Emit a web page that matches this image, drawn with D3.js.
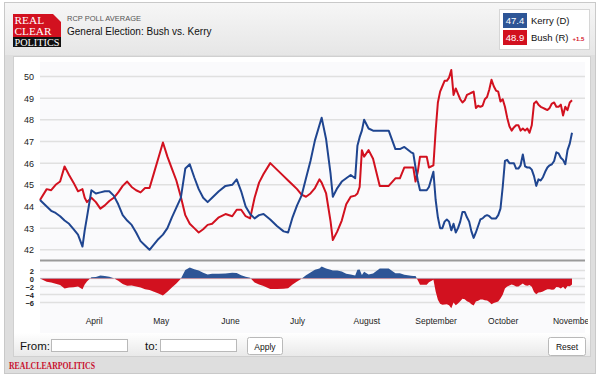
<!DOCTYPE html>
<html>
<head>
<meta charset="utf-8">
<script src="https://cdn.jsdelivr.net/npm/d3@7"></script>
<style>
body{margin:0;background:#fff;}
svg{display:block;font-family:"Liberation Sans",Arial,sans-serif;}
</style>
</head>
<body>
<div id="chart"></div>
<script>
// RCP poll average, Bush vs Kerry 2004
var dates = [
 "3/8","3/11","3/13","3/15","3/17","3/19","3/21","3/23","3/25","3/27","3/28","3/29","3/31",
 "4/2","4/4","4/6","4/8","4/10","4/12","4/14","4/16","4/18","4/20","4/22","4/24","4/26","4/28","4/30",
 "5/2","5/4","5/6","5/8","5/10","5/12","5/14","5/16","5/18","5/20","5/22","5/24","5/27","5/30",
 "6/2","6/4","6/6","6/8","6/10","6/12","6/14","6/16","6/19","6/22","6/25","6/27","6/29",
 "7/1","7/3","7/5","7/7","7/9","7/11","7/12","7/14","7/16","7/17","7/19","7/21","7/23","7/25","7/27","7/28","7/29","7/30","7/31",
 "8/2","8/4","8/7","8/11","8/14","8/16","8/18","8/21","8/22","8/23","8/24","8/25","8/28","8/29","8/31",
 "9/1","9/2","9/3","9/4","9/5","9/6","9/7","9/8","9/9","9/10","9/11","9/12","9/13","9/14","9/15",
 "9/16","9/17","9/18","9/19","9/20","9/21","9/22","9/23","9/24","9/25","9/26","9/27","9/28","9/29","9/30",
 "10/1","10/2","10/3","10/4","10/5","10/6","10/7","10/8","10/9","10/10","10/11","10/12","10/13","10/14","10/15","10/16",
 "10/17","10/18","10/19","10/20","10/21","10/22","10/23","10/24","10/25","10/26","10/27","10/28","10/29","10/30","10/31",
 "11/1"
];
var kerry = [
 44.3,44.0,43.8,43.7,43.55,43.35,43.2,42.95,42.7,42.15,42.9,43.5,44.75,
 44.6,44.65,44.7,44.7,44.5,44.1,43.6,43.35,43.15,42.8,42.4,42.2,42.0,42.25,42.5,
 42.7,43.0,43.5,43.95,44.4,45.75,45.95,45.35,44.8,44.4,44.2,44.4,44.7,44.95,
 45.0,45.25,44.7,44.0,43.65,43.45,43.6,43.65,43.4,43.1,42.85,42.8,43.5,
 44.05,44.5,45.3,46.1,47.05,47.75,48.1,47.1,45.5,44.45,44.85,45.15,45.3,45.45,45.3,46.8,47.2,47.5,48.0,
 47.6,47.5,47.5,47.5,46.65,46.65,46.75,46.5,46.45,45.8,45.2,44.75,44.75,44.9,45.6,
 44.3,43.5,43.0,43.0,43.3,43.4,43.3,42.9,43.2,42.8,43.0,43.3,43.75,43.75,43.5,
 43.3,42.85,42.55,42.8,43.1,43.4,43.45,43.55,43.6,43.55,43.45,43.45,43.45,43.6,43.9,
 44.9,46.1,46.15,46.0,46.0,46.0,45.75,45.75,45.9,46.4,45.85,45.8,45.8,45.7,45.4,44.95,
 45.25,45.2,45.35,45.6,45.8,45.9,45.95,46.1,46.5,46.45,46.25,46.15,45.95,46.6,46.9,
 47.4
];
var bush = [
 44.3,44.8,44.75,45.0,45.15,45.85,45.45,45.1,44.7,44.8,44.4,44.2,44.4,
 44.2,43.9,44.05,44.25,44.4,44.65,44.95,45.15,44.9,44.75,44.65,44.85,44.85,45.55,46.25,
 46.95,46.3,45.75,45.2,44.45,43.6,43.2,43.0,42.8,42.95,43.15,43.2,43.5,43.65,
 43.55,43.85,43.85,43.55,43.45,44.4,45.1,45.5,46.0,45.7,45.4,45.2,45.0,
 44.8,44.55,44.45,44.6,44.85,45.25,45.1,44.6,43.3,42.45,42.85,43.35,44.1,44.45,44.5,44.6,44.9,46.6,46.3,
 46.6,46.2,44.95,44.95,45.3,45.3,45.8,45.8,45.8,45.15,45.6,46.3,46.3,45.8,45.9,
 47.5,48.8,49.3,49.55,49.8,49.8,49.95,50.3,49.15,49.45,49.2,48.95,48.8,48.9,49.15,
 49.2,49.25,49.3,48.55,48.65,48.6,48.65,48.95,49.05,49.4,49.85,49.55,49.35,49.3,48.85,
 48.95,48.6,48.1,47.7,47.5,47.65,47.75,47.75,47.5,47.6,47.5,47.6,47.4,47.75,48.75,48.85,
 48.7,48.6,48.55,48.5,48.45,48.55,48.75,48.8,48.6,48.6,48.7,48.2,48.6,48.45,48.8,
 48.9
];
var yTicks = [42,43,44,45,46,47,48,49,50];
var spreadTicks = [2,0,-2,-4,-6];
var monthTicks = ["4/1","5/1","6/1","7/1","8/1","9/1","10/1","11/1"];
var monthNames = ["April","May","June","July","August","September","October","November"];

var blue = "#1f4590", red = "#d2111f";
var parse = d3.timeParse("%m/%d/%Y");
function toDate(s){ return parse(s + "/2004"); }

var data = dates.map(function(d, i){
	return {date: toDate(d), k: kerry[i], b: bush[i], s: kerry[i] - bush[i]};
});

var svg = d3.select("#chart").append("svg")
	.attr("width", 600)
	.attr("height", 376);

var defs = svg.append("defs");
var hg = defs.append("linearGradient").attr("id", "hg").attr("x1", 0).attr("y1", 0).attr("x2", 0).attr("y2", 1);
hg.append("stop").attr("offset", "0").attr("stop-color", "#f6f6f6");
hg.append("stop").attr("offset", "1").attr("stop-color", "#e6e6e6");
var cg = defs.append("linearGradient").attr("id", "cg").attr("x1", 0).attr("y1", 0).attr("x2", 0).attr("y2", 1);
cg.append("stop").attr("offset", "0").attr("stop-color", "#ffffff");
cg.append("stop").attr("offset", "1").attr("stop-color", "#e9e9e9");

// frame
svg.append("rect").attr("x", 4.5).attr("y", 2.5).attr("width", 591).attr("height", 371)
	.attr("fill", "#dedede").attr("stroke", "#c9c9c9");
svg.append("rect").attr("x", 5).attr("y", 3).attr("width", 590).attr("height", 52).attr("fill", "url(#hg)");
svg.append("rect").attr("x", 13.5).attr("y", 56.5).attr("width", 577).attr("height", 300)
	.attr("fill", "#fff").attr("stroke", "#d0d0d0");
svg.append("rect").attr("x", 40).attr("y", 62).attr("width", 545).attr("height", 271).attr("fill", "#fafafc");
svg.append("rect").attr("x", 14).attr("y", 333).attr("width", 576).attr("height", 23).attr("fill", "url(#cg)");

// logo
var logo = svg.append("g");
logo.append("rect").attr("x", 13).attr("y", 14).attr("width", 48).attr("height", 24).attr("fill", "#d2111f");
logo.append("path").attr("d", "M53,14 L61,14 L61,22 Z").attr("fill", "#f2f2f2");
logo.append("rect").attr("x", 13).attr("y", 37).attr("width", 48).attr("height", 10).attr("fill", "#111");
logo.selectAll("text.l").data([["REAL", 24.2], ["CLEAR", 35], ["POLITICS", 45.6]]).enter().append("text")
	.attr("x", 14.5).attr("y", function(d){ return d[1]; })
	.attr("textLength", function(d){ return d[0].length > 5 ? 45 : d[0].length * 7.4; })
	.attr("lengthAdjust", "spacingAndGlyphs")
	.style("font-family", "'Liberation Serif','DejaVu Serif',serif")
	.style("font-size", "9.5px").attr("fill", "#fff")
	.text(function(d){ return d[0]; });

svg.append("text").attr("x", 67).attr("y", 21).style("font-size", "7.5px").attr("fill", "#555")
	.text("RCP POLL AVERAGE");
svg.append("text").attr("x", 67).attr("y", 35).style("font-size", "10px").attr("fill", "#111")
	.text("General Election: Bush vs. Kerry");

// legend
var last = data[data.length - 1];
var lg = svg.append("g");
lg.append("rect").attr("x", 499.5).attr("y", 9.5).attr("width", 90).attr("height", 40)
	.attr("fill", "#fff").attr("stroke", "#d6d6d6");
lg.append("rect").attr("x", 503).attr("y", 13).attr("width", 24).attr("height", 15).attr("fill", "#2d5596");
lg.append("rect").attr("x", 503).attr("y", 30).attr("width", 24).attr("height", 15).attr("fill", red);
lg.append("text").attr("x", 515).attr("y", 24).attr("text-anchor", "middle").attr("fill", "#fff")
	.style("font-size", "9.5px").text(d3.format(".1f")(last.k));
lg.append("text").attr("x", 515).attr("y", 41).attr("text-anchor", "middle").attr("fill", "#fff")
	.style("font-size", "9.5px").text(d3.format(".1f")(last.b));
lg.append("text").attr("x", 531).attr("y", 24).style("font-size", "9.5px").attr("fill", "#111").text("Kerry (D)");
lg.append("text").attr("x", 531).attr("y", 41).style("font-size", "9.5px").attr("fill", "#111").text("Bush (R)");
lg.append("text").attr("x", 572.5).attr("y", 41).style("font-size", "6px").style("font-weight", "bold")
	.attr("fill", red).text("+" + d3.format(".1f")(last.b - last.k));

// scales
var x = d3.scaleTime()
	.domain([toDate("3/8"), toDate("11/1")])
	.range([40, 572]);
var y = d3.scaleLinear().domain([42, 50]).range([249.8, 76.5]);
var yS = d3.scaleLinear().domain([2, -6]).range([270.6, 302.6]);

// grid
svg.append("g").selectAll("line").data(yTicks).enter().append("line")
	.attr("x1", 40).attr("x2", 585)
	.attr("y1", function(d){ return y(d); }).attr("y2", function(d){ return y(d); })
	.attr("stroke", "#e0e0e0").attr("stroke-width", 1.5);
svg.append("g").selectAll("line").data(spreadTicks).enter().append("line")
	.attr("x1", 40).attr("x2", 585)
	.attr("y1", function(d){ return yS(d); }).attr("y2", function(d){ return yS(d); })
	.attr("stroke", "#e0e0e0").attr("stroke-width", 1.5);
svg.append("line").attr("x1", 40).attr("x2", 585).attr("y1", 260.5).attr("y2", 260.5)
	.attr("stroke", "#9a9a9a").attr("stroke-width", 2);

// y axes
var ya = svg.append("g").attr("transform", "translate(37,0)")
	.call(d3.axisLeft(y).tickValues(yTicks).tickSize(0).tickPadding(3));
ya.select(".domain").remove();
ya.selectAll("text").style("font-size", "9px").style("font-family", "'Liberation Sans',Arial,sans-serif").attr("fill", "#222");

var ys = svg.append("g").attr("transform", "translate(37,0)")
	.call(d3.axisLeft(yS).tickValues(spreadTicks).tickSize(0).tickPadding(3).tickFormat(d3.format("d")));
ys.select(".domain").remove();
ys.selectAll("text").style("font-size", "7.5px").style("font-weight", "bold")
	.style("font-family", "'Liberation Sans',Arial,sans-serif").attr("fill", "#222");

// spread area
defs.append("clipPath").attr("id", "above").append("rect")
	.attr("x", 40).attr("y", 262).attr("width", 545).attr("height", yS(0) - 262);
defs.append("clipPath").attr("id", "below").append("rect")
	.attr("x", 40).attr("y", yS(0)).attr("width", 545).attr("height", 330 - yS(0));
var area = d3.area()
	.x(function(d){ return x(d.date); })
	.y0(yS(0))
	.y1(function(d){ return yS(d.s); });
svg.append("path").datum(data).attr("d", area).attr("fill", "#2d5596").attr("clip-path", "url(#above)");
svg.append("path").datum(data).attr("d", area).attr("fill", red).attr("clip-path", "url(#below)");

// lines
var lineK = d3.line().x(function(d){ return x(d.date); }).y(function(d){ return y(d.k); });
var lineB = d3.line().x(function(d){ return x(d.date); }).y(function(d){ return y(d.b); });
svg.append("path").datum(data).attr("d", lineB).attr("fill", "none").attr("stroke", red)
	.attr("stroke-width", 2).attr("stroke-linejoin", "round");
svg.append("path").datum(data).attr("d", lineK).attr("fill", "none").attr("stroke", blue)
	.attr("stroke-width", 2).attr("stroke-linejoin", "round");

// month axis, clipped at the right edge of the plot
defs.append("clipPath").attr("id", "mclip").append("rect")
	.attr("x", 14).attr("y", 305).attr("width", 574).attr("height", 28);
var xa = svg.append("g").attr("clip-path", "url(#mclip)")
	.append("g").attr("transform", "translate(0,315)")
	.call(d3.axisBottom(x).tickValues(monthTicks.map(toDate)).tickSize(0).tickPadding(3)
		.tickFormat(function(d, i){ return monthNames[i]; }));
xa.select(".domain").remove();
xa.selectAll("text").style("font-size", "8.5px").style("font-family", "'Liberation Sans',Arial,sans-serif")
	.attr("fill", "#222");

// controls
function box(bx, by, w, h, r){
	svg.append("rect").attr("x", bx).attr("y", by).attr("width", w).attr("height", h).attr("rx", r || 0)
		.attr("fill", "#fff").attr("stroke", "#b9b9b9");
}
svg.append("text").attr("x", 20).attr("y", 350).style("font-size", "11.5px").attr("fill", "#111").text("From:");
box(51.5, 339.5, 76, 12);
svg.append("text").attr("x", 145).attr("y", 350).style("font-size", "11.5px").attr("fill", "#111").text("to:");
box(160.5, 339.5, 76, 12);
box(247.5, 337.5, 35, 17, 2);
svg.append("text").attr("x", 265).attr("y", 349.5).attr("text-anchor", "middle").style("font-size", "8.5px")
	.attr("fill", "#111").text("Apply");
box(548.5, 337.5, 37, 18, 2);
svg.append("text").attr("x", 567).attr("y", 350).attr("text-anchor", "middle").style("font-size", "8.5px")
	.attr("fill", "#111").text("Reset");

// footer
svg.append("text").attr("x", 9).attr("y", 369).attr("textLength", 86).attr("lengthAdjust", "spacingAndGlyphs")
	.style("font-family", "'Liberation Serif','DejaVu Serif',serif").style("font-size", "9.5px")
	.style("font-weight", "bold").attr("fill", "#c8102e").text("REALCLEARPOLITICS");
</script>
</body>
</html>
